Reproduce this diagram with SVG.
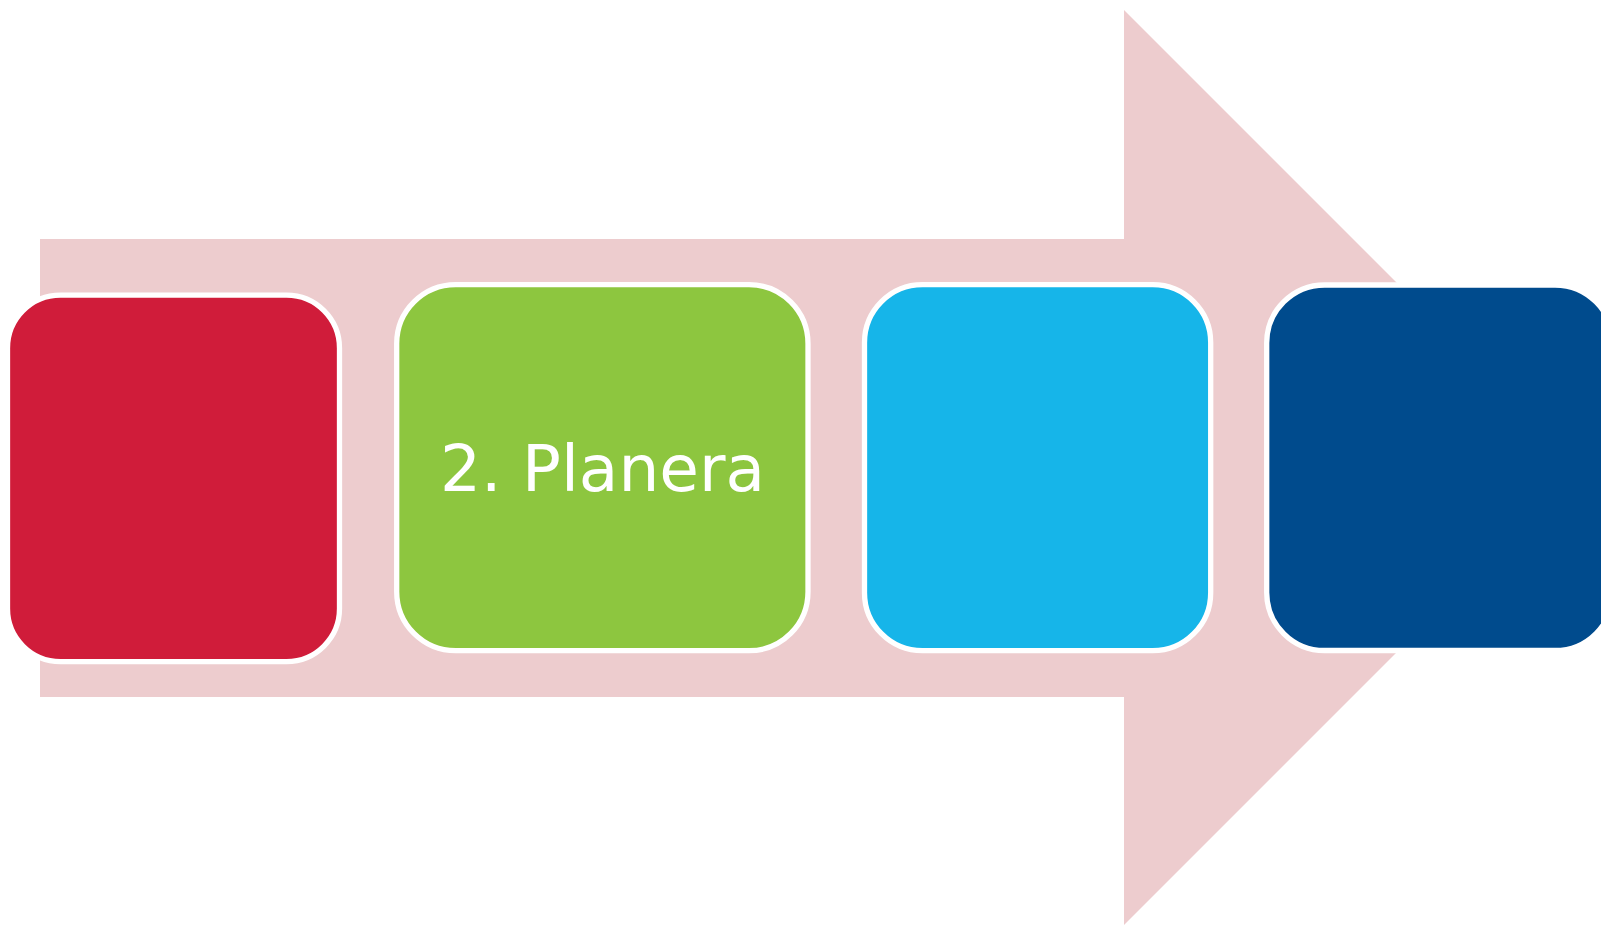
<svg xmlns="http://www.w3.org/2000/svg" width="1601" height="926" viewBox="0 0 1601 926">
  <style>
    .box { stroke: #FFFFFF; stroke-width: 5.3; }
    .lbl { font-family: "DejaVu Sans", Verdana, sans-serif; font-size: 64.5px; fill: #FFFFFF; text-anchor: middle; }
  </style>
  <rect x="0" y="0" width="1601" height="926" fill="#FFFFFF"/>
  <g id="arrow">
    <polygon points="40,239 1124,239 1124,10 1581.5,467.5 1124,925 1124,697 40,697" fill="#EDCCCE"/>
  </g>
  <g id="connectors"></g>
  <g id="node1">
    <rect class="box" x="7.5" y="295.2" width="332" height="366.4" rx="53" ry="53" fill="#D01C3A"/>
  </g>
  <g id="node2">
    <rect class="box" x="396.7" y="284.7" width="411.3" height="366" rx="59" ry="59" fill="#8DC63F"/>
    <text class="lbl" x="602.5" y="490.5">2. Planera</text>
  </g>
  <g id="node3">
    <rect class="box" x="864.5" y="284.7" width="346.2" height="366" rx="58" ry="58" fill="#16B5E9"/>
  </g>
  <g id="node4">
    <rect class="box" x="1266.7" y="285" width="346.3" height="365.5" rx="58" ry="58" fill="#004B8D"/>
  </g>
</svg>
